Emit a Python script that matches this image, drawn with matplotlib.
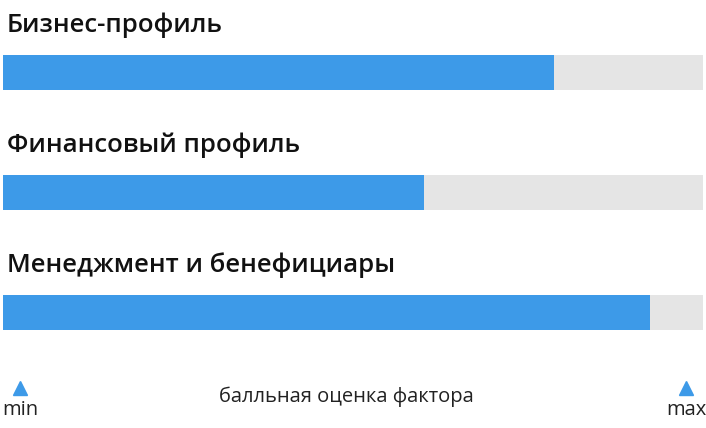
import matplotlib
matplotlib.use('Agg')
import matplotlib.pyplot as plt

# Factor names and their scores (share of the max score)
factors = ['Бизнес-профиль', 'Финансовый профиль', 'Менеджмент и бенефициары']
scores = [0.787, 0.601, 0.924]
caption = 'балльная оценка фактора'

plt.rcParams['font.family'] = ['Open Sans', 'DejaVu Sans']

fig = plt.figure(figsize=(7.06, 4.28), dpi=100)
ax = fig.add_axes([0, 0, 1, 1])
# pixel-like frame: track from 0 to 1 spans x = 3..703 px
ax.set_xlim(-3 / 700, 703 / 700)
ax.set_ylim(428, 0)
ax.axis('off')

bar_tops = [55, 175, 295]
bar_h = 35
for name, val, top in zip(factors, scores, bar_tops):
    yc = top + bar_h / 2
    ax.barh(yc, 1.0, height=bar_h, left=0, color='#e5e5e5', edgecolor='none')
    ax.barh(yc, val, height=bar_h, left=0, color='#3d9ae8', edgecolor='none')
    ax.text(4 / 700, top - 30, name, fontsize=18.5, fontweight='semibold',
            color='#111111', va='center', ha='left')

# min / max markers
ax.plot([17 / 700, 683 / 700], [388, 388], linestyle='none', marker='^',
        markersize=10, color='#3d9ae8')
ax.text(17 / 700, 410, 'min', fontsize=14.5, ha='center', va='center', color='#222222')
ax.text(683 / 700, 410, 'max', fontsize=14.5, ha='center', va='center', color='#222222')
ax.text(343 / 700, 397, caption, fontsize=14.5, ha='center', va='center', color='#222222')

fig.savefig('out.png', dpi=100)
